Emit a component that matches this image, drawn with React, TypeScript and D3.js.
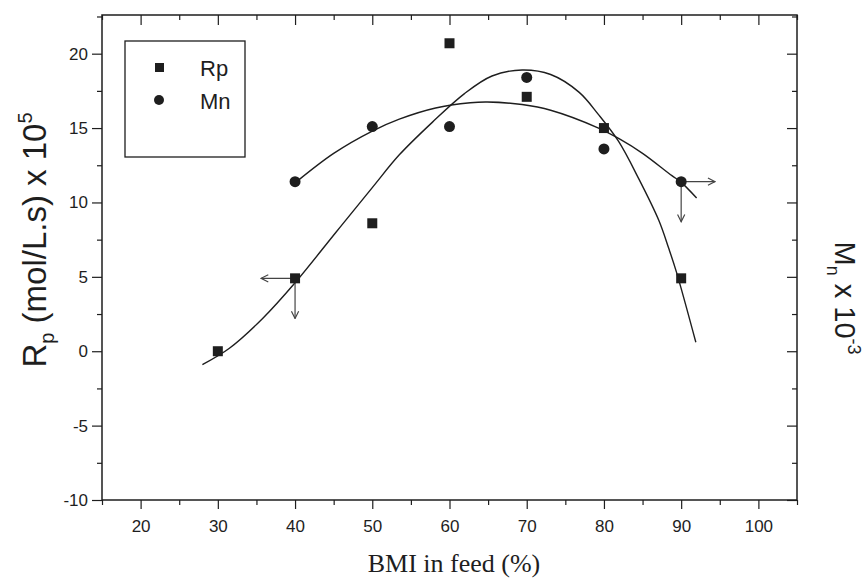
import React, { useEffect, useRef } from "react";
import * as d3 from "d3";

// measured points
const bmiRp = [30, 40, 50, 60, 70, 80, 90];
const rpValues = [0.0, 4.9, 8.6, 20.7, 17.1, 15.0, 4.9];
const bmiMn = [40, 50, 60, 70, 80, 90];
const mnValues = [11.4, 15.1, 15.1, 18.4, 13.6, 11.4];

// fitted curves
const rpFitX = [28, 31.5, 35.8, 40, 45.3, 50, 53.5, 57.8, 61.9, 65.5, 69.4, 73.1, 76.8, 79.3, 81.9, 84.5, 87.1, 88.4, 89.4, 91.9];
const rpFitY = [-0.9, 0.2, 2.2, 4.6, 8.0, 11.0, 13.2, 15.4, 17.3, 18.5, 18.9, 18.6, 17.4, 15.9, 14.1, 11.6, 8.8, 6.9, 5.3, 0.6];
const mnFitX = [40.2, 45, 50, 53.5, 58.2, 62.7, 64.9, 69.4, 73.1, 79.3, 81.9, 85, 88.8, 89.9, 92];
const mnFitY = [11.4, 13.3, 14.8, 15.6, 16.35, 16.7, 16.75, 16.58, 16.2, 15.0, 14.3, 13.3, 11.8, 11.4, 10.3];

// axis arrows: [fromX, fromY, toX, toY]
const axisArrows = [
  [40, 4.9, 35.6, 4.9],
  [40, 4.9, 40, 2.2],
  [90, 11.4, 94.4, 11.4],
  [90, 11.4, 90, 8.7],
];

const xMajor = [20, 30, 40, 50, 60, 70, 80, 90, 100];
const xMinor = [15, 25, 35, 45, 55, 65, 75, 85, 95, 105];
const yMajor = [-10, -5, 0, 5, 10, 15, 20];
const yMinor = [-7.5, -2.5, 2.5, 7.5, 12.5, 17.5, 22.5];

const W = 867;
const H = 580;
const left = 102, right = 797, top = 15, bottom = 500;
const ink = "#1e1e1e";
const sans = "'Liberation Sans', Arial, Helvetica, sans-serif";

export default function App() {
  const ref = useRef<SVGSVGElement>(null);

  useEffect(() => {
    const svg = d3.select(ref.current);
    svg.selectAll("*").remove();

    const x = d3.scaleLinear().domain([15, 105]).range([left, right]);
    const y = d3.scaleLinear().domain([-10, 22.6]).range([bottom, top]);

    svg.append("defs").append("marker")
      .attr("id", "head")
      .attr("viewBox", "0 0 10 10")
      .attr("refX", 9).attr("refY", 5)
      .attr("markerWidth", 9).attr("markerHeight", 9)
      .attr("markerUnits", "userSpaceOnUse")
      .attr("orient", "auto")
      .append("path")
      .attr("d", "M1,1 L9,5 L1,9")
      .attr("fill", "none")
      .attr("stroke", "#444")
      .attr("stroke-width", 1.3);

    // axes
    const styleAxis = (g: any) => {
      g.select(".domain").remove();
      g.selectAll("line").attr("stroke", ink).attr("stroke-width", 1.2);
      g.selectAll("text").attr("font-family", sans).attr("font-size", 17).attr("fill", ink);
    };
    const plain = (d: any) => String(d);

    svg.append("g").attr("transform", `translate(0,${bottom})`)
      .call(d3.axisBottom(x).tickValues(xMajor).tickSize(9).tickPadding(11).tickFormat(plain).tickSizeOuter(0))
      .call(styleAxis);
    svg.append("g").attr("transform", `translate(0,${bottom})`)
      .call(d3.axisBottom(x).tickValues(xMinor).tickSize(5).tickFormat(() => "").tickSizeOuter(0))
      .call(styleAxis);
    svg.append("g").attr("transform", `translate(0,${top})`)
      .call(d3.axisTop(x).tickValues(xMajor).tickSize(-10).tickFormat(() => "").tickSizeOuter(0))
      .call(styleAxis);
    svg.append("g").attr("transform", `translate(0,${top})`)
      .call(d3.axisTop(x).tickValues(xMinor).tickSize(-5).tickFormat(() => "").tickSizeOuter(0))
      .call(styleAxis);

    svg.append("g").attr("transform", `translate(${left},0)`)
      .call(d3.axisLeft(y).tickValues(yMajor).tickSize(10).tickPadding(4).tickFormat(plain).tickSizeOuter(0))
      .call(styleAxis);
    svg.append("g").attr("transform", `translate(${left},0)`)
      .call(d3.axisLeft(y).tickValues(yMinor).tickSize(5).tickFormat(() => "").tickSizeOuter(0))
      .call(styleAxis);
    svg.append("g").attr("transform", `translate(${right},0)`)
      .call(d3.axisRight(y).tickValues(yMajor).tickSize(-10).tickFormat(() => "").tickSizeOuter(0))
      .call(styleAxis);
    svg.append("g").attr("transform", `translate(${right},0)`)
      .call(d3.axisRight(y).tickValues(yMinor).tickSize(-5).tickFormat(() => "").tickSizeOuter(0))
      .call(styleAxis);

    // frame
    svg.append("rect")
      .attr("x", left).attr("y", top)
      .attr("width", right - left).attr("height", bottom - top)
      .attr("fill", "none").attr("stroke", ink).attr("stroke-width", 1.5);

    // fitted curves
    const rpPts = rpFitX.map((v, i) => [x(v), y(rpFitY[i])] as [number, number]);
    const mnPts = mnFitX.map((v, i) => [x(v), y(mnFitY[i])] as [number, number]);
    const pathGen = d3.line().curve(d3.curveCatmullRom.alpha(0.5));
    svg.append("path").attr("d", pathGen(rpPts) as string)
      .attr("fill", "none").attr("stroke", ink).attr("stroke-width", 1.4);
    svg.append("path").attr("d", pathGen(mnPts) as string)
      .attr("fill", "none").attr("stroke", ink).attr("stroke-width", 1.4);

    // arrows
    svg.append("g").selectAll("line")
      .data(axisArrows)
      .enter()
      .append("line")
      .attr("x1", d => x(d[0])).attr("y1", d => y(d[1]))
      .attr("x2", d => x(d[2])).attr("y2", d => y(d[3]))
      .attr("stroke", "#444").attr("stroke-width", 1.2)
      .attr("marker-end", "url(#head)");

    // markers
    svg.append("g").selectAll("rect")
      .data(bmiRp)
      .enter()
      .append("rect")
      .attr("x", (d) => x(d) - 5)
      .attr("y", (d, i) => y(rpValues[i]) - 5)
      .attr("width", 10).attr("height", 10)
      .attr("fill", ink);
    svg.append("g").selectAll("circle")
      .data(bmiMn)
      .enter()
      .append("circle")
      .attr("cx", (d) => x(d))
      .attr("cy", (d, i) => y(mnValues[i]))
      .attr("r", 5.5)
      .attr("fill", ink);

    // legend
    const lg = svg.append("g");
    lg.append("rect").attr("x", 125).attr("y", 41).attr("width", 120).attr("height", 116)
      .attr("fill", "none").attr("stroke", ink).attr("stroke-width", 1.3);
    lg.append("rect").attr("x", 155).attr("y", 63).attr("width", 9).attr("height", 9).attr("fill", ink);
    lg.append("circle").attr("cx", 159).attr("cy", 100).attr("r", 5).attr("fill", ink);
    lg.append("text").attr("x", 200).attr("y", 76).text("Rp")
      .attr("font-family", sans).attr("font-size", 22).attr("fill", ink);
    lg.append("text").attr("x", 200).attr("y", 109).text("Mn")
      .attr("font-family", sans).attr("font-size", 22).attr("fill", ink);

    // axis titles
    svg.append("text")
      .attr("x", 454).attr("y", 572)
      .attr("text-anchor", "middle")
      .attr("font-family", "'Liberation Serif', 'Times New Roman', serif")
      .attr("font-size", 26)
      .attr("fill", ink)
      .text("BMI in feed (%)");

    const yt = svg.append("text")
      .attr("transform", "translate(46,240) rotate(-90)")
      .attr("text-anchor", "middle")
      .attr("font-family", sans).attr("font-size", 33).attr("fill", ink);
    yt.append("tspan").text("R");
    yt.append("tspan").attr("dy", 8).attr("font-size", 20).text("p");
    yt.append("tspan").attr("dy", -8).text(" (mol/L.s) x 10");
    yt.append("tspan").attr("dy", -14).attr("font-size", 20).text("5");

    const rt = svg.append("text")
      .attr("transform", "translate(835,298) rotate(90)")
      .attr("text-anchor", "middle")
      .attr("font-family", sans).attr("font-size", 29).attr("fill", ink);
    rt.append("tspan").text("M");
    rt.append("tspan").attr("dy", 8).attr("font-size", 18).text("n");
    rt.append("tspan").attr("dy", -8).text(" x 10");
    rt.append("tspan").attr("dy", -13).attr("font-size", 18).text("-3");
  }, []);

  return (
    <svg
      ref={ref}
      width={W}
      height={H}
      style={{ position: "absolute", left: 0, top: 0, background: "#fff" }}
    />
  );
}
